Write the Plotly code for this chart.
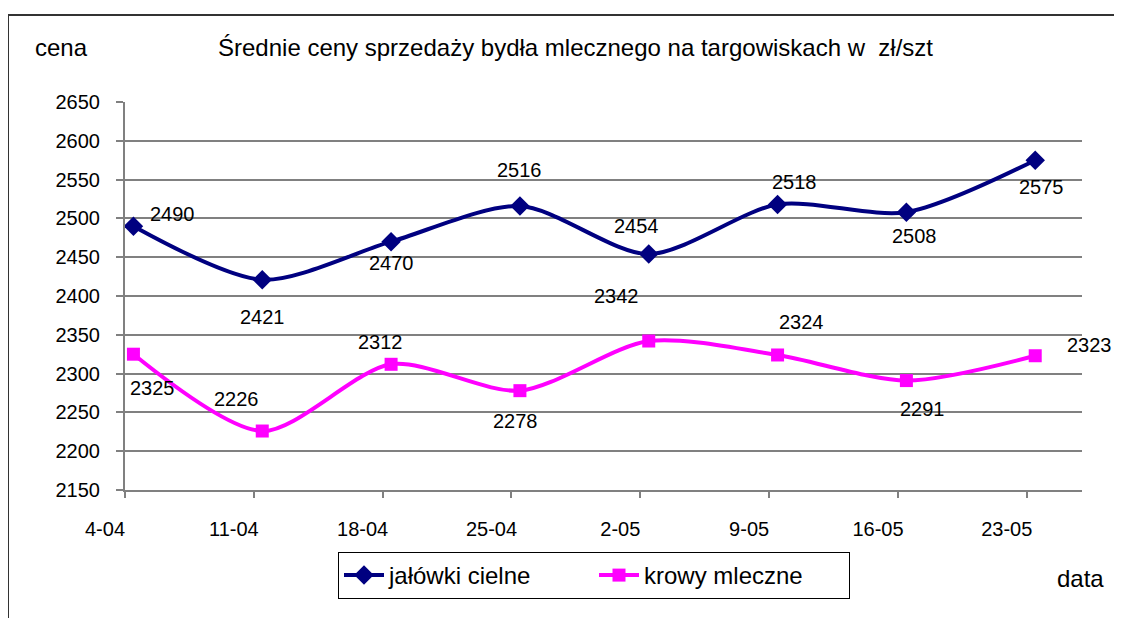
import plotly.graph_objects as go
import pandas as pd

# ---- data ----
dates = ["2010-04-04", "2010-04-11", "2010-04-18", "2010-04-25",
         "2010-05-02", "2010-05-09", "2010-05-16", "2010-05-23"]
tick_labels = ["4-04", "11-04", "18-04", "25-04", "2-05", "9-05", "16-05", "23-05"]
jalowki = [2490, 2421, 2470, 2516, 2454, 2518, 2508, 2575]
krowy = [2325, 2226, 2312, 2278, 2342, 2324, 2291, 2323]
series_names = ["jałówki cielne", "krowy mleczne"]
title_text = "Średnie ceny sprzedaży bydła mlecznego na targowiskach w  zł/szt"

# ---- label offsets (pixels, screen: dx right, dy down) ----
off_j = [(39, -12), (0, 37), (0, 21), (0, -36), (-12, -28), (17, -22), (8, 24), (6, 27)]
off_k = [(19, 34), (-26, -32), (-11, -22), (-4, 30), (-32, -45), (24, -33), (16, 28), (54, -11)]

FONT = "Liberation Sans, Arial, sans-serif"
x = pd.to_datetime(dates)
tickvals = [d - pd.Timedelta(hours=11) for d in x]
x0 = tickvals[0]
x1 = x0 + pd.Timedelta(days=52)

fig = go.Figure()
fig.add_trace(go.Scatter(
    x=x, y=jalowki, name=series_names[0], mode="lines+markers",
    line=dict(color="#000080", width=4, shape="spline", smoothing=0.8),
    marker=dict(symbol="diamond", size=15, color="#000080"),
))
fig.add_trace(go.Scatter(
    x=x, y=krowy, name=series_names[1], mode="lines+markers",
    line=dict(color="#FF00FF", width=4, shape="spline", smoothing=0.8),
    marker=dict(symbol="square", size=13, color="#FF00FF"),
))

annotations = []
for vals, offs in ((jalowki, off_j), (krowy, off_k)):
    for xi, v, (dx, dy) in zip(x, vals, offs):
        annotations.append(dict(
            x=xi, y=v, xref="x", yref="y", text=str(v), showarrow=False,
            xanchor="center", yanchor="middle",
            xshift=dx, yshift=-dy, font=dict(family=FONT, size=20, color="black"),
        ))

# plot area in page pixels: x 125..1082, y 102..490
def px(xp):
    return (xp - 125) / 957.0

def py(yp):
    return (490 - yp) / 388.0

annotations += [
    dict(x=px(575), y=py(47), xref="paper", yref="paper", text=title_text, showarrow=False,
         xanchor="center", yanchor="middle",
         font=dict(family=FONT, size=24, color="black")),
    dict(x=px(61), y=py(47), xref="paper", yref="paper", text="cena", showarrow=False,
         xanchor="center", yanchor="middle",
         font=dict(family=FONT, size=24, color="black")),
    dict(x=px(1080), y=py(578), xref="paper", yref="paper", text="data", showarrow=False,
         xanchor="center", yanchor="middle",
         font=dict(family=FONT, size=24, color="black")),
]

fig.update_layout(
    width=1122, height=618,
    # page body has an 8px margin; compensate so the plot area sits at x 125..1082, y 102..490
    margin=dict(l=117, r=48, t=94, b=136),
    paper_bgcolor="white", plot_bgcolor="white",
    font=dict(family=FONT, size=20, color="black"),
    showlegend=True,
    legend=dict(orientation="h", x=px(338), y=py(552), xanchor="left", yanchor="top",
                bordercolor="black", borderwidth=1, font=dict(size=24),
                itemwidth=40, entrywidth=200),
    annotations=annotations,
    shapes=[
        dict(type="line", xref="paper", yref="paper", x0=px(8), x1=px(1125), y0=py(15), y1=py(15),
             line=dict(color="#333333", width=2)),
        dict(type="line", xref="paper", yref="paper", x0=px(8), x1=px(8), y0=py(15), y1=py(630),
             line=dict(color="#333333", width=2)),
    ],
)

fig.update_xaxes(
    type="date", range=[x0, x1], tickvals=tickvals, ticktext=tick_labels,
    ticks="outside", ticklen=6, tickcolor="#808080", tickwidth=2,
    showline=True, linecolor="#808080", linewidth=2, showgrid=False, zeroline=False,
    ticklabelstandoff=14, ticklabelshift=-20, tickfont=dict(size=20),
)
fig.update_yaxes(
    range=[2150, 2650], dtick=50, tick0=2150,
    ticks="outside", ticklen=7, tickcolor="#808080", tickwidth=2,
    showline=True, linecolor="#808080", linewidth=2,
    showgrid=True, gridcolor="#808080", gridwidth=1.5, zeroline=False,
    ticklabelstandoff=12, tickfont=dict(size=20),
)

fig.write_html("out.html")
